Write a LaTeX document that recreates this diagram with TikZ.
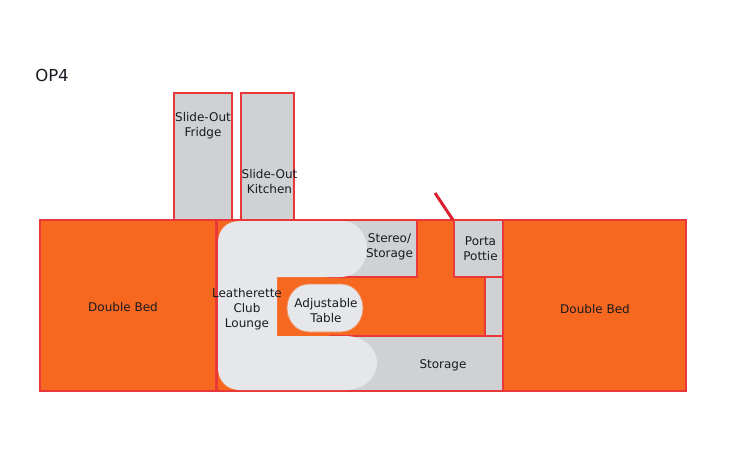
\documentclass[tikz,border=0pt]{standalone}
\usepackage{fontspec}
\setmainfont{DejaVu Sans}
\definecolor{bedor}{HTML}{F66820}
\definecolor{wallred}{HTML}{E8383A}
\definecolor{doorred}{HTML}{DC2030}
\definecolor{cabgrey}{HTML}{CFD1D3}
\definecolor{cushion}{HTML}{E5E7EA}
\definecolor{inktext}{HTML}{1A1A22}
\tikzset{
  wall/.style={draw=wallred,line width=2pt},
  cabinet/.style={wall,fill=cabgrey},
  floorpart/.style={wall,fill=bedor},
  label/.style={font=\fontsize{12}{15}\selectfont,text=inktext,align=center,inner sep=0pt}
}
\begin{document}
\begin{tikzpicture}[x=1pt,y=-1pt]
\useasboundingbox[fill=white] (0,0) rectangle (731,469);
% slide-outs
\draw[cabinet] (174,92.5) rectangle (232,220);
\draw[cabinet] (241,92.5) rectangle (294,220);
% body
\draw[floorpart] (40,220) rectangle (686,391);
% cabinets
\draw[cabinet] (328,220) rectangle (417,277);
\draw[cabinet] (454,220) rectangle (503,277);
\draw[cabinet] (485,277) rectangle (503,336);
\draw[cabinet] (330,336) rectangle (503,391);
\draw[wallred,line width=2pt] (503,220) -- (503,391);
% door
\draw[doorred,line width=3pt] (435,193) -- (453,220);
% bed divider
\draw[wallred,line width=3pt] (216,220) -- (216,391);
% lounge
\fill[cushion] (240,221) -- (343,221)
  .. controls (358,221) and (367,236) .. (367,249)
  .. controls (367,262) and (358,277) .. (340,277)
  -- (277,277) -- (277,336) -- (345,336)
  .. controls (365,336) and (377,349) .. (377,362)
  .. controls (377,377) and (365,390) .. (345,390)
  -- (240,390)
  .. controls (226,390) and (218,380) .. (218,368)
  -- (218,243)
  .. controls (218,230) and (226,221) .. (240,221) -- cycle;
% table
\draw[fill=cushion,draw=bedor!70!cushion,line width=0.8pt] (309,284) -- (341,284)
  .. controls (354,284) and (363,295) .. (363,308)
  .. controls (363,321) and (354,332) .. (341,332)
  -- (309,332)
  .. controls (296,332) and (287,321) .. (287,308)
  .. controls (287,295) and (296,284) .. (309,284) -- cycle;
% labels
\node[label] (title) at (52,75.5) {\fontsize{16.5}{18}\selectfont OP4};
\node[label] (fridge) at (203,126) {Slide-Out\\Fridge};
\node[label] (kitchen) at (269.5,182) {Slide-Out\\Kitchen};
\node[label] (bedl) at (123,307) {Double Bed};
\node[label] (bedr) at (595,309.5) {Double Bed};
\node[label] (lounge) at (247,309.5) {Leatherette\\Club\\Lounge};
\node[label] (table) at (326,310.5) {Adjustable\\Table};
\node[label] (stereo) at (389.5,247) {Stereo/\\Storage};
\node[label] (porta) at (480.5,249) {Porta\\Pottie};
\node[label] (storage) at (443,365.5) {Storage};
\end{tikzpicture}
\end{document}
